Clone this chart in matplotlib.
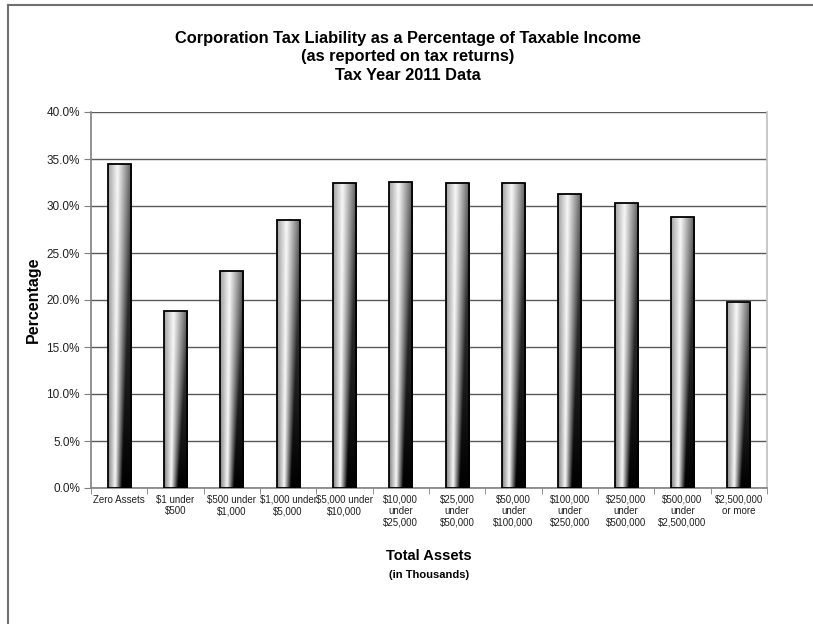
import numpy as np
import matplotlib
matplotlib.use("Agg")
import matplotlib.pyplot as plt
from matplotlib.lines import Line2D
from matplotlib.ticker import FuncFormatter, MultipleLocator

categories = ["Zero Assets", "$1 under\n$500", "$500 under\n$1,000", "$1,000 under\n$5,000",
              "$5,000 under\n$10,000", "$10,000\nunder\n$25,000", "$25,000\nunder\n$50,000",
              "$50,000\nunder\n$100,000", "$100,000\nunder\n$250,000", "$250,000\nunder\n$500,000",
              "$500,000\nunder\n$2,500,000", "$2,500,000\nor more"]
values = [34.5, 18.8, 23.1, 28.5, 32.4, 32.6, 32.4, 32.4, 31.3, 30.3, 28.8, 19.8]

title = "Corporation Tax Liability as a Percentage of Taxable Income\n(as reported on tax returns)\nTax Year 2011 Data"

plt.rcParams['font.family'] = ['Liberation Sans', 'DejaVu Sans']

fig = plt.figure(figsize=(8.13, 6.24), dpi=100)
W, H = 813, 624
ax = fig.add_axes([91 / W, 1 - 488 / H, (767 - 91) / W, (488 - 112) / H])

x = np.arange(len(values))
bars = ax.bar(x, values, width=0.41, facecolor='none', edgecolor='black', linewidth=1.3, zorder=4)

# gradient fill
nx, ny = 80, 300
xf = np.linspace(0, 1, nx)[None, :]
yf = np.linspace(0, 1, ny)[:, None]
peak = 0.30 + 0.10 * yf
left = 0.50 + 0.14 * yf
right = 0.0 + 0.30 * yf
span = 0.28 + 0.37 * yf
v_lo = left + (0.97 - left) * (xf / peak)
s = np.clip((xf - peak) / span, 0, 1)
v_hi = 0.97 - (0.97 - right) * s
v = np.where(xf < peak, v_lo, v_hi)
v = np.clip(v, 0, 1)
img = np.dstack([v, v, v])
for b in bars:
    x0, w, h = b.get_x(), b.get_width(), b.get_height()
    im = ax.imshow(img, extent=[x0, x0 + w, 0, h], origin='lower', aspect='auto',
                   interpolation='bilinear', zorder=3)
    im.set_clip_path(b)

ax.set_xlim(-0.5, len(values) - 0.5)
ax.set_ylim(0, 40)
ax.yaxis.set_major_locator(MultipleLocator(5))
ax.yaxis.set_major_formatter(FuncFormatter(lambda v, p: f"{v:.1f}%"))
ax.grid(axis='y', color='#5a5a5a', linewidth=1.0, zorder=1)
ax.set_axisbelow(True)

ax.set_xticks(x)
ax.set_xticklabels([c.replace('$', r'\$') for c in categories], fontsize=7, color='#222222',
                   linespacing=1.15)
ax.tick_params(axis='x', length=0, pad=5)
ax.set_xticks(np.arange(-0.5, len(values), 1), minor=True)
ax.tick_params(axis='x', which='minor', length=4, direction='out', color='#808080')
ax.tick_params(axis='y', length=5, direction='out', color='#808080', labelsize=8.5,
               labelcolor='#222222', pad=3)

for side in ['left', 'bottom']:
    ax.spines[side].set_color('#808080')
    ax.spines[side].set_linewidth(1.2)
ax.spines['top'].set_visible(False)
ax.spines['right'].set_color('#c0c0c0')
ax.spines['right'].set_linewidth(1.2)

fig.text(408 / W, 1 - 57 / H, title, ha='center', va='center', fontsize=11.8,
         fontweight='bold', linespacing=1.3)
fig.text(33 / W, 1 - 300 / H, "Percentage", rotation=90, ha='center', va='center',
         fontsize=11.5, fontweight='bold')
fig.text(429 / W, 1 - 556 / H, "Total Assets", ha='center', va='center', fontsize=10.5,
         fontweight='bold')
fig.text(429 / W, 1 - 575 / H, "(in Thousands)", ha='center', va='center', fontsize=8,
         fontweight='bold')

fig.add_artist(Line2D([8 / W, 8 / W], [0, 1 - 5 / H], transform=fig.transFigure,
                      color='#707070', linewidth=1.5))
fig.add_artist(Line2D([8 / W, 1], [1 - 5 / H, 1 - 5 / H], transform=fig.transFigure,
                      color='#707070', linewidth=1.5))

fig.savefig("out.png", dpi=100)
